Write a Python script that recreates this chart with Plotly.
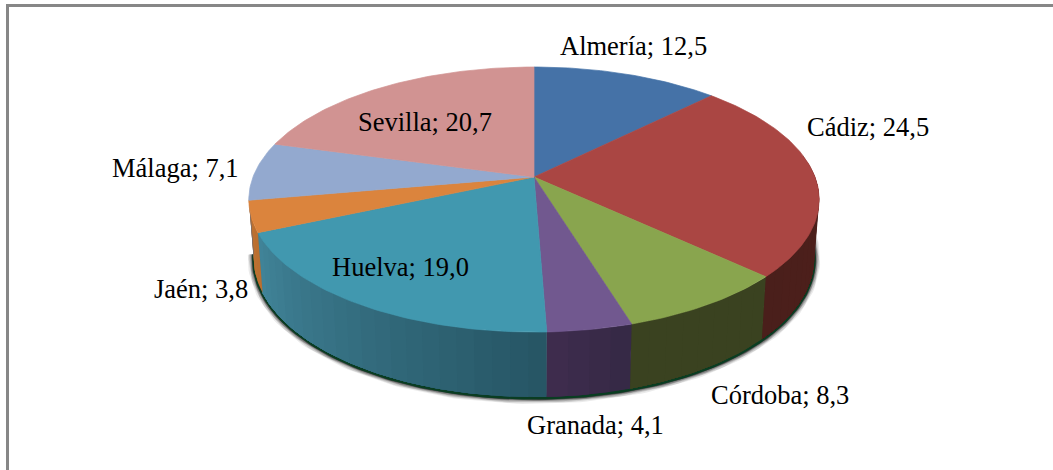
import math
import plotly.graph_objects as go

# ---- data
categories = ["Almería", "Cádiz", "Córdoba", "Granada", "Huelva", "Jaén", "Málaga", "Sevilla"]
values = [12.5, 24.5, 8.3, 4.1, 19.0, 3.8, 7.1, 20.7]
value_text = ["12,5", "24,5", "8,3", "4,1", "19,0", "3,8", "7,1", "20,7"]

# ---- styles
top_colors = ["#4572A7", "#AA4643", "#89A54E", "#71588F", "#4198AF", "#DB843D", "#93A9CF", "#D19392"]
side_from = ["#2A4565", "#4F201C", "#3A4220", "#352845", "#265564", "#B96E30", "#5A6A85", "#805A5A"]
side_to = ["#2A4565", "#4A1F1B", "#3A4220", "#3F2D4E", "#418499", "#C07432", "#5A6A85", "#805A5A"]
label_pos = [(633, 46), (868, 127), (780, 395), (595, 425), (400.5, 267), (201, 289), (175, 168), (424.5, 122)]

# ---- projection of the tilted disc onto the page
CX, APEX_Y, K, A, C = 534, 177, 281, 98.6, -0.17


def top(a):
    u, v = math.sin(a), -math.cos(a)
    w = 1 + C * v
    return CX + K * u / w, (A * v + APEX_Y) / w


def bottom(a):
    x, y = top(a)
    v = -math.cos(a)
    return CX + (x - CX) * 0.983, y + 57 + 8 * v


def hex2rgb(h):
    return [int(h[i:i + 2], 16) for i in (1, 3, 5)]


def mix(c0, c1, t):
    r0, r1 = hex2rgb(c0), hex2rgb(c1)
    return "rgb(%d,%d,%d)" % tuple(round(p + (q - p) * t) for p, q in zip(r0, r1))


fig = go.Figure()
total = sum(values)
edges = [0.0]
for val in values:
    edges.append(edges[-1] + val / total * 2 * math.pi)


def poly(xs, ys, color, width=0.7):
    fig.add_trace(go.Scatter(x=xs, y=ys, mode="lines", fill="toself", fillcolor=color,
                             line=dict(color=color, width=width), hoverinfo="skip", showlegend=False))


# soft shadow and dark rim under the side wall
rim_angles = [math.radians(d) for d in range(84, 263)]
rim_x = [bottom(a)[0] for a in rim_angles]
rim_y = [bottom(a)[1] + 1 for a in rim_angles]
for width, color in [(12, "rgba(0,0,0,0.08)"), (10, "rgba(0,0,0,0.12)"), (8, "rgba(0,0,0,0.17)"),
                     (6, "rgba(0,0,0,0.25)"), (4, "rgba(0,0,0,0.45)"), (3, "#0A3D22")]:
    fig.add_trace(go.Scatter(x=rim_x, y=rim_y, mode="lines", line=dict(color=color, width=width),
                             hoverinfo="skip", showlegend=False))

# side wall: each band runs to the end of its slice and the next one paints over it
lo, hi = math.radians(80), math.radians(262)
for i in range(len(values)):
    a0, a1 = max(edges[i], lo), min(edges[i + 1], hi)
    if a1 <= a0:
        continue
    n = max(1, int(math.degrees(a1 - a0) / 3))
    for j in range(n):
        s0 = a0 + (a1 - a0) * j / n
        m = max(2, int(math.degrees(a1 - s0)))
        arc = [s0 + (a1 - s0) * k / m for k in range(m + 1)]
        pts = [top(s) for s in arc] + [bottom(s) for s in reversed(arc)]
        poly([p[0] for p in pts] + [pts[0][0]], [p[1] for p in pts] + [pts[0][1]],
             mix(side_from[i], side_to[i], (j + 0.5) / n), width=0)

# top face
for i in range(len(values)):
    n = max(4, int(math.degrees(edges[i + 1] - edges[i])))
    pts = [top(edges[i] + (edges[i + 1] - edges[i]) * j / n) for j in range(n + 1)]
    poly([CX] + [p[0] for p in pts] + [CX], [APEX_Y] + [p[1] for p in pts] + [APEX_Y], top_colors[i])

annotations = [
    dict(x=pos[0], y=pos[1], xref="x", yref="y", text=f"{name}; {txt}", showarrow=False,
         xanchor="center", yanchor="middle", font=dict(family="Liberation Serif", size=26.5, color="#000000"))
    for name, txt, pos in zip(categories, value_text, label_pos)
]

fig.update_layout(
    width=1053, height=470, margin=dict(l=0, r=0, t=0, b=0),
    paper_bgcolor="white", plot_bgcolor="white", showlegend=False,
    xaxis=dict(range=[0, 1053], visible=False, fixedrange=True),
    yaxis=dict(range=[470, 0], visible=False, fixedrange=True),
    annotations=annotations,
    shapes=[
        dict(type="rect", xref="x", yref="y", x0=6, x1=1053, y0=4, y1=7, fillcolor="#878787", line_width=0),
        dict(type="rect", xref="x", yref="y", x0=6, x1=9, y0=4, y1=470, fillcolor="#878787", line_width=0),
    ],
)
fig.write_html("out.html", config={"displayModeBar": False},
               post_script="document.body.style.margin='0';document.body.style.overflow='hidden';")
